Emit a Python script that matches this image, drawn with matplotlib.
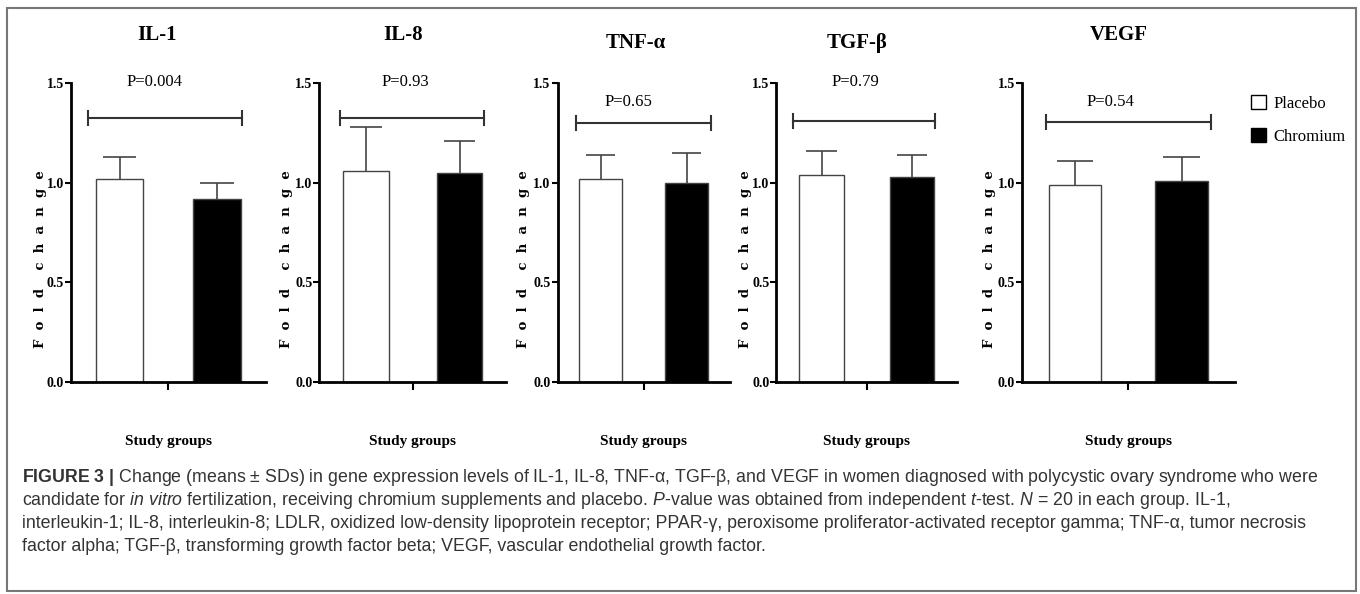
import numpy as np
import matplotlib
matplotlib.use("Agg")
import matplotlib.pyplot as plt
from matplotlib.patches import Patch, Rectangle

# data
genes = ["IL-1", "IL-8", "TNF-α", "TGF-β", "VEGF"]
groups = ["Placebo", "Chromium"]
placebo_mean = [1.02, 1.06, 1.02, 1.04, 0.99]
placebo_sd = [0.11, 0.22, 0.12, 0.12, 0.12]
chromium_mean = [0.92, 1.05, 1.00, 1.03, 1.01]
chromium_sd = [0.08, 0.16, 0.15, 0.11, 0.12]
p_labels = ["P=0.004", "P=0.93", "P=0.65", "P=0.79", "P=0.54"]

# layout per panel (pixels): first bar centre, bar spacing
centres = [119.5, 366, 600.5, 821.5, 1075]
spacing = [97.5, 93.5, 86, 90.5, 106.5]
bracket_x = [(-0.32, 1.26), (-0.28, 1.26), (-0.285, 1.285), (-0.31, 1.25), (-0.27, 1.28)]
bracket_y = [1.325, 1.325, 1.30, 1.31, 1.305]
p_pos = [(0.36, 1.505), (0.42, 1.505), (0.32, 1.405), (0.37, 1.505), (0.33, 1.405)]
t_pos = [(0.38, 1.74), (0.40, 1.74), (0.41, 1.70), (0.39, 1.70), (0.41, 1.74)]
ylab_px = [47, 293, 530, 752, 996]   # right edge of the rotated y label

W, H = 1360, 594
fig = plt.figure(figsize=(13.6, 5.94), dpi=100)
serif = "Liberation Serif"

y0, y15 = 382, 83
for i, g in enumerate(genes):
    L = centres[i] - 0.5 * spacing[i]
    w = 2 * spacing[i]
    ax = fig.add_axes([L / W, 1 - y0 / H, w / W, (y0 - y15) / H])
    means = np.array([placebo_mean[i], chromium_mean[i]])
    sds = np.array([placebo_sd[i], chromium_sd[i]])
    xs = np.array([0, 1])
    ax.bar(xs, means, width=0.49, color=["white", "black"],
           edgecolor="#444444", linewidth=1.0, zorder=2)
    # upper error bars only
    ax.vlines(xs, means, means + sds, color="#444444", lw=1.2, zorder=1)
    ax.hlines(means + sds, xs - 0.17, xs + 0.17, color="#444444", lw=1.2, zorder=1)
    ax.set_xlim(-0.5, 1.5)
    ax.set_ylim(0, 1.5)
    ax.set_yticks([0, 0.5, 1.0, 1.5])
    ax.set_yticklabels(["0.0", "0.5", "1.0", "1.5"], fontfamily=serif,
                       fontweight="bold", fontsize=10)
    ax.set_xticks([0.5])
    ax.set_xticklabels([""])
    ax.tick_params(axis="y", length=4, width=1.5, pad=1)
    ax.tick_params(axis="x", length=6, width=1.5)
    for s in ["top", "right"]:
        ax.spines[s].set_visible(False)
    for s in ["left", "bottom"]:
        ax.spines[s].set_linewidth(2)
    ax.set_ylabel("F  o  l  d    c  h  a  n  g  e", fontfamily="DejaVu Serif",
                  fontweight="bold", fontsize=9.5)
    ax.yaxis.set_label_coords((ylab_px[i] - L) / w, 0.41)
    ax.text(0.5, -0.2, "Study groups", transform=ax.transAxes, ha="center", va="center",
            fontfamily=serif, fontweight="bold", fontsize=11)

    bx0, bx1 = bracket_x[i]
    by = bracket_y[i]
    ax.plot([bx0, bx1], [by, by], color="#333333", lw=1.5, clip_on=False)
    ax.plot([bx0, bx0], [by - 0.035, by + 0.035], color="#333333", lw=1.5, clip_on=False)
    ax.plot([bx1, bx1], [by - 0.035, by + 0.035], color="#333333", lw=1.5, clip_on=False)
    ax.text(p_pos[i][0], p_pos[i][1], p_labels[i], ha="center", va="center",
            fontfamily=serif, fontsize=12, clip_on=False)
    ax.text(t_pos[i][0], t_pos[i][1], g, ha="center", va="center",
            fontfamily=serif, fontweight="bold", fontsize=15, clip_on=False)

handles = [Patch(facecolor="white", edgecolor="black", label=groups[0]),
           Patch(facecolor="black", edgecolor="black", label=groups[1])]
fig.legend(handles=handles, loc="upper left", bbox_to_anchor=(1236 / W, 1 - 80 / H),
           frameon=False, prop={"family": serif, "size": 12},
           handlelength=0.9, handleheight=0.9, handletextpad=0.45, labelspacing=1.0)

# caption
plt.rcParams["mathtext.fontset"] = "custom"
plt.rcParams["mathtext.rm"] = "Liberation Sans"
plt.rcParams["mathtext.it"] = "Liberation Sans:italic"
plt.rcParams["mathtext.bf"] = "Liberation Sans:bold"
caption = [
    r"$\mathbf{FIGURE\ 3\ |}$ Change (means ± SDs) in gene expression levels of IL-1, IL-8, TNF-α, TGF-β, and VEGF in women diagnosed with polycystic ovary syndrome who were",
    r"candidate for $in\ vitro$ fertilization, receiving chromium supplements and placebo. $P$-value was obtained from independent $t$-test. $N$ = 20 in each group. IL-1,",
    "interleukin-1; IL-8, interleukin-8; LDLR, oxidized low-density lipoprotein receptor; PPAR-γ, peroxisome proliferator-activated receptor gamma; TNF-α, tumor necrosis",
    "factor alpha; TGF-β, transforming growth factor beta; VEGF, vascular endothelial growth factor.",
]
for k, line in enumerate(caption):
    fig.text(22 / W, 1 - (477 + 23.3 * k) / H, line, ha="left", va="center",
             fontfamily="Liberation Sans", fontsize=12.8, color="#333333")

fig.patches.append(Rectangle((7 / W, 1 - 591 / H), 1349 / W, 583 / H, transform=fig.transFigure,
                             fill=False, edgecolor="#777777", linewidth=1.5))

fig.savefig("out.png", dpi=100)
